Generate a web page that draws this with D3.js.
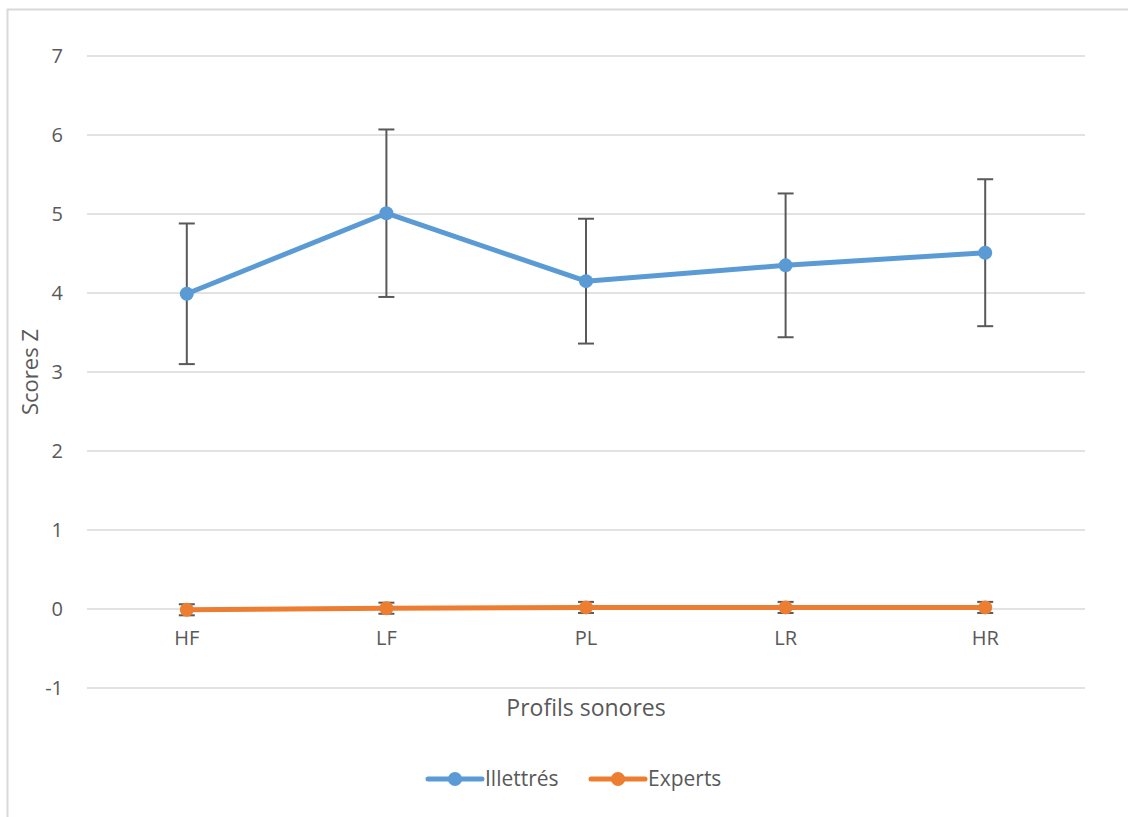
<!DOCTYPE html>
<html><head><meta charset="utf-8">
<script src="https://cdn.jsdelivr.net/npm/d3@7"></script>
<style>body{margin:0;background:#fff;} svg{display:block;} svg text{font-family:"Open Sans",sans-serif;}</style>
</head><body>
<svg id="c" width="1128" height="817"></svg>
<script>
const categories = ["HF","LF","PL","LR","HR"];
const illettres = [3.99, 5.01, 4.15, 4.35, 4.51];
const illettresErr = [0.89, 1.06, 0.79, 0.91, 0.93];
const experts = [-0.01, 0.01, 0.02, 0.02, 0.02];
const expertsErr = [0.07, 0.07, 0.07, 0.07, 0.07];
const yTicks = [-1,0,1,2,3,4,5,6,7];
const seriesNames = ["Illettrés","Experts"];
const colors = ["#5b9bd5","#ed7d31"];

(function(){
const FONT = '"Open Sans", sans-serif';
const svg = d3.select("#c");
svg.append("rect").attr("x",7.5).attr("y",9.5).attr("width",1130).attr("height",820)
  .attr("fill","#fff").attr("stroke","#d9d9d9").attr("stroke-width",2);

const pL=87, pR=1085, pT=56, pB=688;
const x = d3.scaleBand().domain(categories).range([pL,pR]);
const y = d3.scaleLinear().domain([-1,7]).range([pB,pT]);

svg.append("g").selectAll("line").data(yTicks).join("line")
  .attr("x1",pL).attr("x2",pR).attr("y1",d=>y(d)).attr("y2",d=>y(d))
  .attr("stroke","#d9d9d9").attr("stroke-width",1.3);

const yAxis = svg.append("g").attr("transform",`translate(${pL},0)`)
  .call(d3.axisLeft(y).tickValues(yTicks).tickSize(0).tickPadding(24).tickFormat(d=>String(d)));
yAxis.attr("font-family",FONT).attr("font-size",20);
yAxis.select(".domain").remove();
yAxis.selectAll("text").attr("fill","#595959");

const xAxis = svg.append("g").attr("transform",`translate(0,${y(0)})`)
  .call(d3.axisBottom(x).tickSize(0).tickPadding(22));
xAxis.attr("font-family",FONT).attr("font-size",20);
xAxis.select(".domain").remove();
xAxis.selectAll("text").attr("fill","#595959");

svg.append("text").attr("x",(pL+pR)/2).attr("y",716).attr("text-anchor","middle")
  .attr("font-size",23).attr("fill","#595959").text("Profils sonores");
svg.append("text").attr("transform",`translate(38,${(pT+pB)/2}) rotate(-90)`)
  .attr("text-anchor","middle").attr("font-size",22).attr("fill","#595959").text("Scores Z");

const cx = d=>x(d)+x.bandwidth()/2;
const data = [
  {vals:illettres, errs:illettresErr},
  {vals:experts, errs:expertsErr}
];
data.forEach((s,si)=>{
  const g = svg.append("g");
  const pts = categories.map((c,i)=>({c, v:s.vals[i], e:s.errs[i]}));
  g.append("path").datum(pts)
    .attr("d", d3.line().x(d=>cx(d.c)).y(d=>y(d.v)))
    .attr("fill","none").attr("stroke",colors[si]).attr("stroke-width",5).attr("stroke-linejoin","round").attr("stroke-linecap","round");
  const eb = g.append("g").attr("stroke","#595959").attr("stroke-width",2);
  pts.forEach(d=>{
    eb.append("line").attr("x1",cx(d.c)).attr("x2",cx(d.c)).attr("y1",y(d.v+d.e)).attr("y2",y(d.v-d.e));
    eb.append("line").attr("x1",cx(d.c)-8).attr("x2",cx(d.c)+8).attr("y1",y(d.v+d.e)).attr("y2",y(d.v+d.e));
    eb.append("line").attr("x1",cx(d.c)-8).attr("x2",cx(d.c)+8).attr("y1",y(d.v-d.e)).attr("y2",y(d.v-d.e));
  });
  g.selectAll("circle").data(pts).join("circle")
    .attr("cx",d=>cx(d.c)).attr("cy",d=>y(d.v)).attr("r",7).attr("fill",colors[si]);
});

const leg = svg.append("g");
seriesNames.forEach((n,i)=>{
  const lx = i===0?428:591;
  const ly = 779;
  leg.append("line").attr("x1",lx).attr("x2",lx+54).attr("y1",ly).attr("y2",ly)
    .attr("stroke",colors[i]).attr("stroke-width",5).attr("stroke-linecap","round");
  leg.append("circle").attr("cx",lx+27).attr("cy",ly).attr("r",7).attr("fill",colors[i]);
  leg.append("text").attr("x",lx+57).attr("y",ly+7).attr("font-size",21).attr("fill","#595959").text(n);
});
})();
</script>
</body></html>
